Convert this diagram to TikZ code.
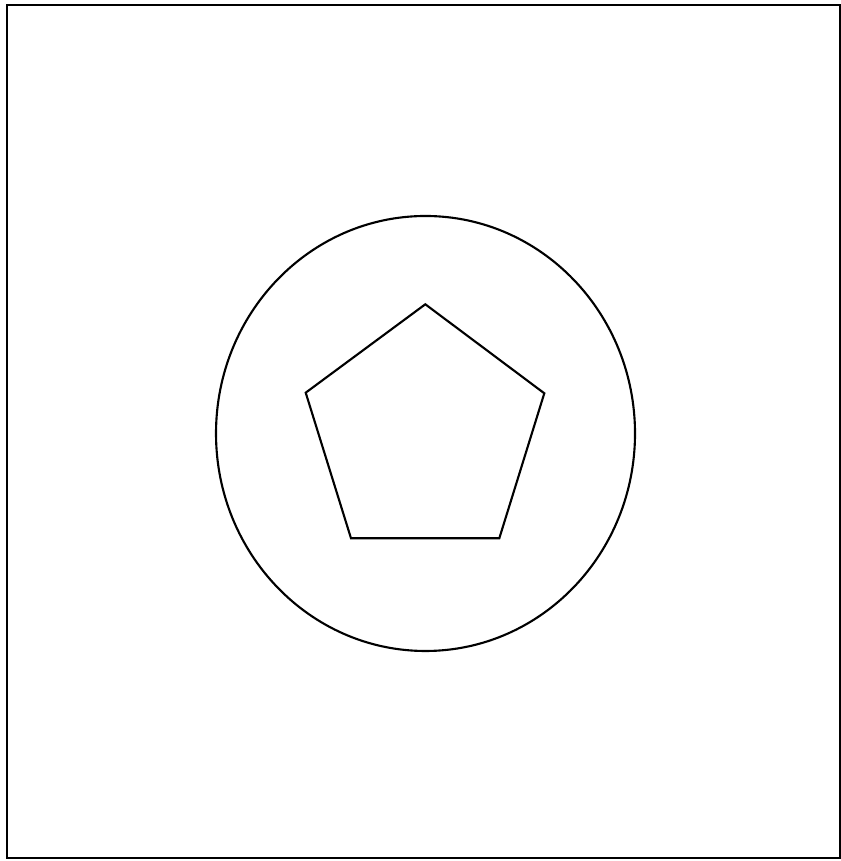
\documentclass[tikz,border=0pt]{standalone}
\usetikzlibrary{calc}

\begin{document}
\begin{tikzpicture}[every path/.style={line width=0.6pt}]
  \useasboundingbox (0,0) rectangle (8.41,8.61);
  \draw (0.07,0.03) rectangle (8.40,8.56);
  \coordinate (centre) at (4.255,4.275);
  \draw (centre) ellipse [x radius=2.095, y radius=2.175];
  \coordinate (ptop) at (4.253,5.567);
  \coordinate (pright) at (5.443,4.677);
  \coordinate (pbr) at (4.993,3.227);
  \coordinate (pbl) at (3.510,3.227);
  \coordinate (pleft) at (3.057,4.683);
  \draw (ptop) -- (pright) -- (pbr) -- (pbl) -- (pleft) -- cycle;
\end{tikzpicture}
\end{document}
